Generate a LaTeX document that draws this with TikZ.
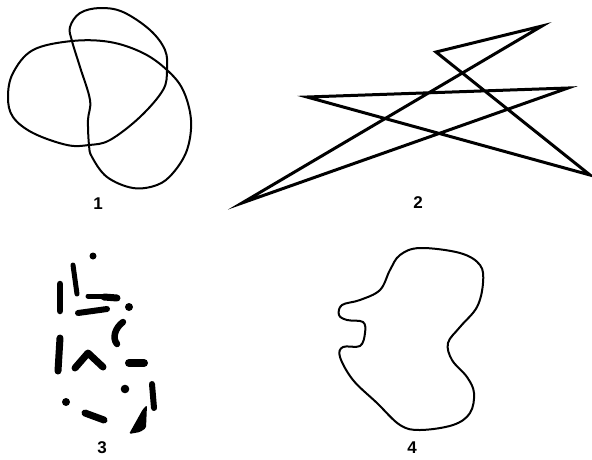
\documentclass[tikz,border=0pt]{standalone}
\usepackage{fontspec}
\setmainfont{Liberation Sans}
\usepackage{tikz}

\begin{document}
\begin{tikzpicture}[
  x=1pt,y=-1pt,
  knot/.style={line width=2pt,line join=round},
  zigzag/.style={line width=3pt,line join=miter,miter limit=20},
  blob/.style={line width=6pt,line cap=round,line join=round},
  lbl/.style={font=\fontsize{17}{19}\selectfont\bfseries,inner sep=0pt}
]
\useasboundingbox (0,0) rectangle (592,459);

% 1: closed curve crossing itself
\draw[knot] plot[smooth cycle,tension=0.6] coordinates {
  (72,41) (70,27) (80,13) (100,8) (123,12) (150,30) (165,50) (167,70)
  (163,90) (140,117) (110,140) (89,145) (67,145) (33,133) (13,117)
  (8,97) (13,73) (33,50) (72,41) (110,42) (143,53) (167,70) (183,90)
  (191,120) (187,150) (173,173) (157,185) (133,188) (107,177) (92,157)
  (89,145) (88,120) (90,100) (80,67)};
\node[lbl] (one) at (98,204) {1};

% 2: zigzag star
\draw[zigzag] (242,203) -- (542,26) -- (436,52) -- (590,175)
  -- (307,97) -- (568,88) -- cycle;
\node[lbl] (two) at (418,203) {2};

% 3: scattered fragments
\fill (93,256) circle (3.5);
\fill (129,307) circle (4);
\fill (125,389) circle (4.3);
\fill (66,402) circle (4);
\draw[blob,line width=5pt] (73,265) -- (77,294);
\draw[blob,line width=6.5pt] (60,284) -- (60,311);
\draw[blob,line width=5pt] (88,296) -- (105,296);
\draw[blob,line width=7pt] (104,297) -- (117,298);
\draw[blob] (78,313) -- (107,309);
\draw[blob,line width=6.5pt] (123,322) .. controls (115,328) and (112,338) .. (117,344);
\draw[blob,line width=7pt] (60,338) -- (58,371);
\draw[blob,line width=7pt] (75,368) -- (88,353) -- (103,367);
\draw[blob,line width=8pt] (129,363) -- (144,363);
\draw[blob] (152,384) -- (154,408);
\fill[rounded corners=1.5pt] (129,434) -- (143,409) -- (147,405) -- (146,428)
  -- (140,432) -- cycle;
\draw[blob,line width=7pt] (85,413) -- (104,420);
\node[lbl] (three) at (102,448) {3};

% 4: closed blob outline
\draw[knot] plot[smooth cycle,tension=0.6] coordinates {
  (420,248) (460,253) (480,265) (483,283) (477,307) (460,327) (448,343)
  (452,360) (467,377) (474,393) (470,413) (453,425) (420,430) (400,425)
  (377,403) (353,380) (340,357) (343,347) (360,346) (365,333) (363,322)
  (347,320) (339,315) (342,305) (360,300) (380,290) (390,270) (400,255)};
\node[lbl] (four) at (412,448) {4};
\end{tikzpicture}
\end{document}
